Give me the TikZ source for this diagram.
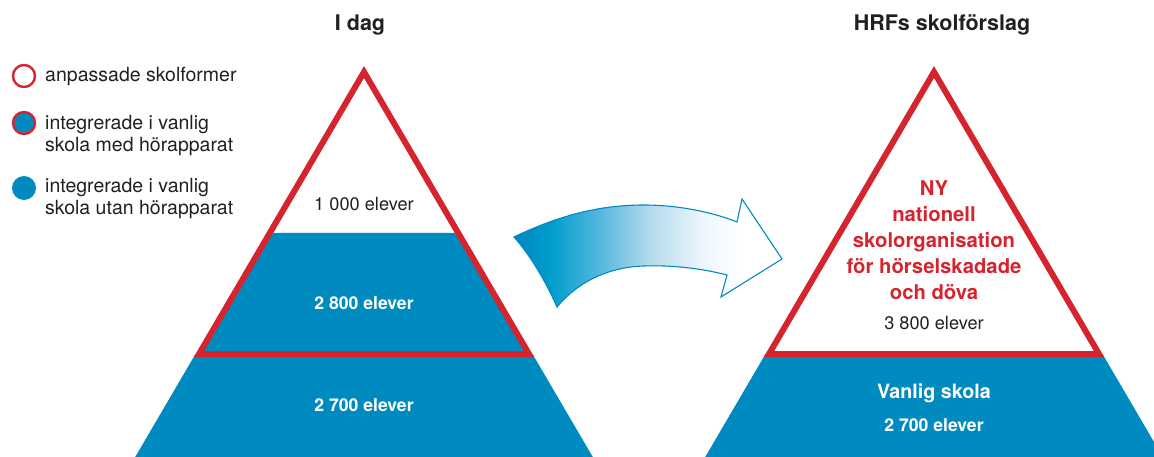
\documentclass[tikz,border=0pt]{standalone}
\usepackage{fontspec}
\setmainfont{TeX Gyre Heros}
\definecolor{pblue}{RGB}{0,139,192}
\definecolor{pred}{RGB}{214,36,46}
\definecolor{ptext}{RGB}{35,31,32}
\definecolor{ashA}{RGB}{0,134,188}
\definecolor{ashB}{RGB}{0,158,206}
\definecolor{ashC}{RGB}{85,183,222}
\definecolor{ashD}{RGB}{178,217,236}
\definecolor{ashE}{RGB}{236,246,251}
\pgfdeclarehorizontalshading{arrowshade}{100bp}{color(0bp)=(ashA); color(25bp)=(ashA); color(32bp)=(ashB); color(41bp)=(ashC); color(50bp)=(ashD); color(60bp)=(ashE); color(68bp)=(white); color(100bp)=(white)}
\tikzset{
  redline/.style={draw=pred, line width=6pt, line join=miter},
  legtext/.style={anchor=west, align=left, text=ptext, font=\fontsize{19.5}{22}\selectfont, inner sep=0pt},
  title/.style={text=ptext, font=\fontsize{21.5}{24}\selectfont\bfseries, inner sep=0pt},
  numblack/.style={text=ptext, font=\fontsize{18.2}{21}\selectfont, inner sep=0pt},
  numwhite/.style={text=white, font=\fontsize{17.6}{21}\selectfont\bfseries, inner sep=0pt},
  redtext/.style={text=pred, align=center, font=\fontsize{20.3}{26}\selectfont\bfseries, inner sep=0pt},
}
\begin{document}
\begin{tikzpicture}[x=1pt,y=-1pt]
\useasboundingbox (0,0) rectangle (1154,457);
\clip (0,0) rectangle (1154,457);
% titles
\node[title] (t1) at (360,25) {I dag};
\node[title] (t2) at (942,25) {HRFs skolförslag};
% legend
\node[circle, draw=pred, line width=2.4pt, fill=white, minimum size=22pt, inner sep=0pt] (c1) at (24,76) {};
\node[circle, draw=pred, line width=2.4pt, fill=pblue, minimum size=22pt, inner sep=0pt] (c2) at (24,123) {};
\node[circle, fill=pblue, minimum size=24pt, inner sep=0pt] (c3) at (24,188) {};
\node[legtext] (l1) at (45,76) {anpassade skolformer};
\node[legtext] (l2) at (45,136) {integrerade i vanlig\\skola med hörapparat};
\node[legtext] (l3) at (45,199) {integrerade i vanlig\\skola utan hörapparat};
% left pyramid
\fill[pblue] (195.5,354) -- (532.5,354) -- (592.8,457) -- (135.2,457) -- cycle;
\fill[pblue] (269.8,233) -- (458.2,233) -- (529,354) -- (199,354) -- cycle;
\draw[redline] (364,72) -- (529,354) -- (199,354) -- cycle;
\node[numblack] (n1) at (364,204) {1 000 elever};
\node[numwhite] (n2) at (364,303) {2 800 elever};
\node[numwhite] (n3) at (364,405) {2 700 elever};
% right pyramid
\fill[pblue] (765.5,354) -- (1102.5,354) -- (1162.8,457) -- (705.2,457) -- cycle;
\draw[redline] (934,72) -- (1099,354) -- (769,354) -- cycle;
\node[redtext] (r1) at (934,240) {NY\\nationell\\skolorganisation\\för hörselskadade\\och döva};
\node[numblack] (r2) at (934,323) {3 800 elever};
\node[text=white, font=\fontsize{19.7}{23}\selectfont\bfseries, inner sep=0pt] (r3) at (934,393) {Vanlig skola};
\node[numwhite] (r4) at (934,425) {2 700 elever};
% arrow
\path[shading=arrowshade, draw=pblue, line width=1.1pt, line join=miter]
  (514,237) .. controls (560,215) and (600,205) .. (644,205)
  .. controls (680,205) and (715,213) .. (737,222)
  -- (742,199) -- (782,259) -- (721,297) -- (727,275)
  .. controls (700,268) and (670,265) .. (644,266)
  .. controls (605,267) and (575,285) .. (557,307)
  .. controls (545,280) and (530,255) .. (514,237) -- cycle;
\end{tikzpicture}
\end{document}
